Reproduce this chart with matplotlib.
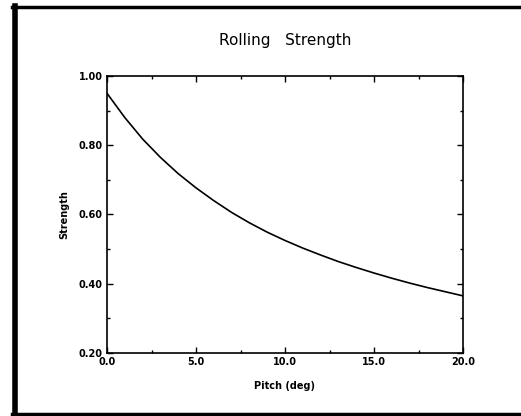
import matplotlib.pyplot as plt
from matplotlib.lines import Line2D
from matplotlib.ticker import MultipleLocator, FormatStrFormatter

# === Datos ===
pitch = [0, 1, 2, 3, 4, 5, 6, 7, 8, 9, 10,
         11, 12, 13, 14, 15, 16, 17, 18, 19, 20]
strength = [0.950, 0.880, 0.818, 0.765, 0.718, 0.677, 0.640, 0.606, 0.576, 0.549, 0.525,
            0.503, 0.483, 0.464, 0.447, 0.431, 0.416, 0.402, 0.389, 0.377, 0.365]

title = "Rolling   Strength"
xlabel = "Pitch (deg)"
ylabel = "Strength"

W, H = 521, 416
fig = plt.figure(figsize=(W / 100, H / 100), dpi=100)
ax = fig.add_axes([107 / W, (H - 353) / H, 356 / W, 277 / H])

ax.plot(pitch, strength, color="black", lw=1.2)
ax.set_xlim(0, 20)
ax.set_ylim(0.2, 1.0)

ax.xaxis.set_major_locator(MultipleLocator(5))
ax.xaxis.set_minor_locator(MultipleLocator(2.5))
ax.yaxis.set_major_locator(MultipleLocator(0.2))
ax.yaxis.set_minor_locator(MultipleLocator(0.1))
ax.xaxis.set_major_formatter(FormatStrFormatter("%.1f"))
ax.yaxis.set_major_formatter(FormatStrFormatter("%.2f"))

ax.tick_params(which="both", direction="in", top=True, right=True, width=1.0)
ax.tick_params(which="major", length=4, labelsize=7, pad=3)
ax.tick_params(which="minor", length=2)
for lab in ax.get_xticklabels() + ax.get_yticklabels():
    lab.set_fontweight("bold")
for s in ax.spines.values():
    s.set_linewidth(1.2)

ax.set_xlabel(xlabel, fontsize=7, fontweight="bold", labelpad=10)
ax.set_ylabel(ylabel, fontsize=7, fontweight="bold", labelpad=7)
fig.text(285 / W, 1 - 40 / H, title, ha="center", va="center", fontsize=11)

# marco grueso alrededor de la figura
fig.add_artist(Line2D([14.5 / W, 14.5 / W], [1 - 6 / H, 1 - 414 / H], color="black", lw=4, transform=fig.transFigure))
fig.add_artist(Line2D([12 / W, 1.0], [1 - 6.5 / H, 1 - 6.5 / H], color="black", lw=2.5, transform=fig.transFigure))
fig.add_artist(Line2D([12 / W, 1.0], [1 - 413.5 / H, 1 - 413.5 / H], color="black", lw=2.5, transform=fig.transFigure))

fig.savefig("out.png", dpi=100)
